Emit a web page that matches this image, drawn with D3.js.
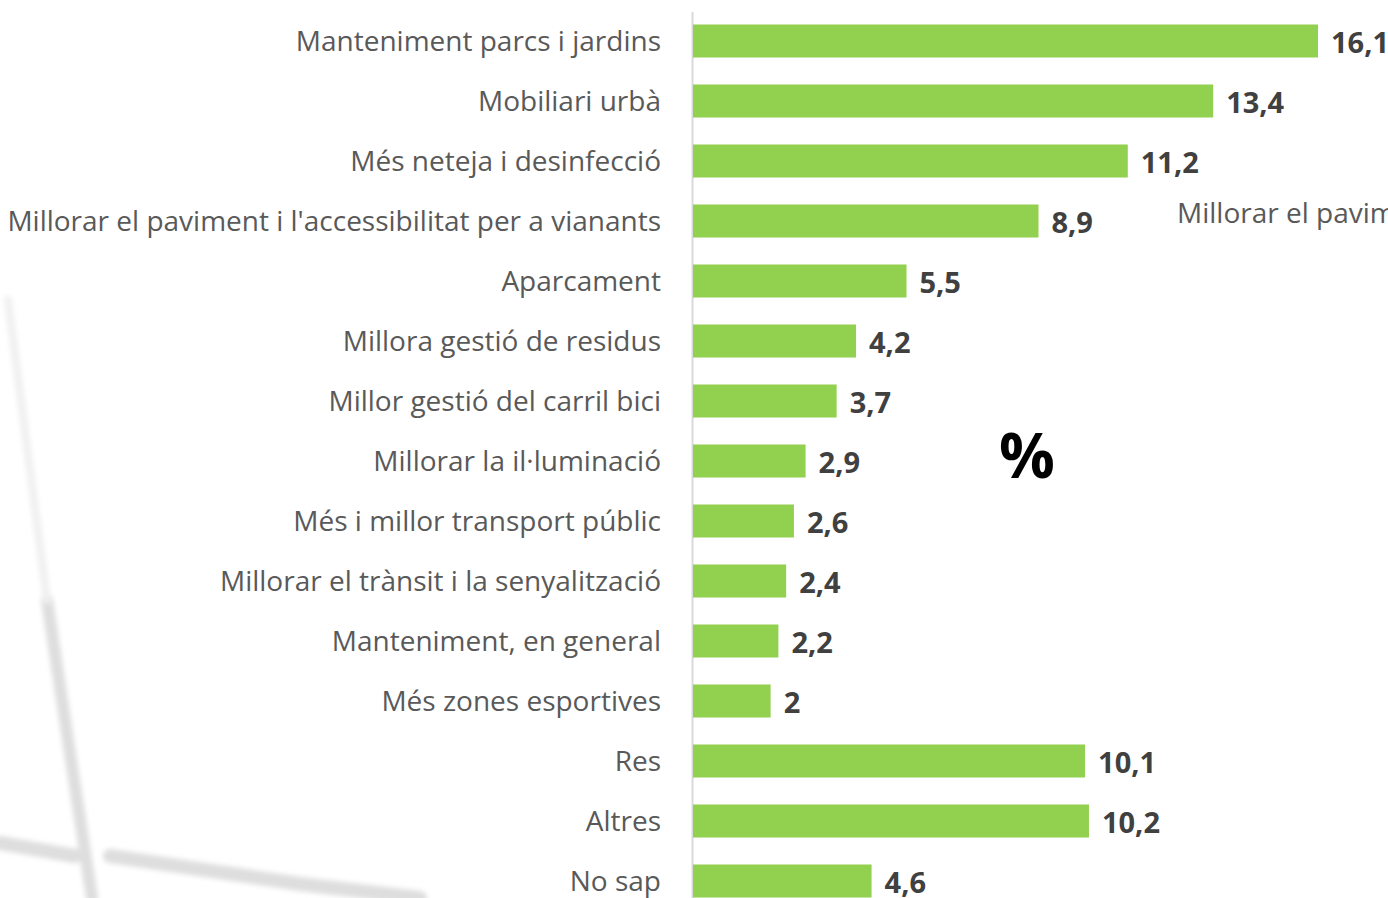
<!DOCTYPE html>
<html>
<head>
<meta charset="utf-8">
<script src="https://cdn.jsdelivr.net/npm/d3@7"></script>
<style>
  html, body { margin: 0; padding: 0; background: #fff; overflow: hidden; }
  svg { display: block; font-family: "Open Sans", sans-serif; }
</style>
</head>
<body>
<script>
// categories, top to bottom
const categories = [
  "Manteniment parcs i jardins",
  "Mobiliari urbà",
  "Més neteja i desinfecció",
  "Millorar el paviment i l'accessibilitat per a vianants",
  "Aparcament",
  "Millora gestió de residus",
  "Millor gestió del carril bici",
  "Millorar la il·luminació",
  "Més i millor transport públic",
  "Millorar el trànsit i la senyalització",
  "Manteniment, en general",
  "Més zones esportives",
  "Res",
  "Altres",
  "No sap"
];
const values = [16.1, 13.4, 11.2, 8.9, 5.5, 4.2, 3.7, 2.9, 2.6, 2.4, 2.2, 2, 10.1, 10.2, 4.6];

const width = 1388, height = 898;
const x0 = 693;

const svg = d3.select("body").append("svg")
  .attr("width", width)
  .attr("height", height);

// faint background photo lines (window frame)
const defs = svg.append("defs");
defs.append("filter").attr("id", "blur").append("feGaussianBlur").attr("stdDeviation", 2.5);
const bg = svg.append("g")
  .attr("fill", "none")
  .attr("stroke", "#dedede")
  .attr("stroke-linecap", "round")
  .attr("filter", "url(#blur)");
bg.append("path").attr("d", "M47,600 L68,740 L92,898").attr("stroke-width", 12);
bg.append("path").attr("d", "M0,843 L75,856").attr("stroke-width", 14);
bg.append("path").attr("d", "M110,856 L300,884 L420,898").attr("stroke-width", 14);
bg.append("path").attr("d", "M8,300 L30,470 L47,600").attr("stroke-width", 8).attr("stroke", "#f0f0f0");

const y = d3.scaleBand()
  .domain(categories)
  .range([11, 11 + 60 * categories.length])
  .paddingInner(0.45)
  .paddingOuter(0.225);

const x = d3.scaleLinear()
  .domain([0, 16.1])
  .range([x0, 1318]);

// axis line
svg.append("line")
  .attr("x1", x0 - 0.5).attr("x2", x0 - 0.5)
  .attr("y1", 12).attr("y2", height)
  .attr("stroke", "#d9d9d9")
  .attr("stroke-width", 2);

svg.append("g")
  .selectAll("rect")
  .data(values)
  .join("rect")
  .attr("x", x(0))
  .attr("y", (d, i) => y(categories[i]))
  .attr("width", d => x(d) - x(0))
  .attr("height", y.bandwidth())
  .attr("fill", "#92d050");

// category labels
svg.append("g")
  .selectAll("text")
  .data(categories)
  .join("text")
  .attr("x", 661)
  .attr("y", d => y(d) + y.bandwidth() / 2)
  .attr("dy", "0.35em")
  .attr("text-anchor", "end")
  .attr("font-size", 28)
  .attr("fill", "#595959")
  .text(d => d);

// value labels
svg.append("g")
  .selectAll("text")
  .data(values)
  .join("text")
  .attr("x", d => x(d) + 13)
  .attr("y", (d, i) => y(categories[i]) + y.bandwidth() / 2 + 2)
  .attr("dy", "0.35em")
  .attr("font-size", 29)
  .attr("font-weight", "bold")
  .attr("fill", "#404040")
  .text(d => String(d).replace(".", ","));

// stray label
svg.append("text")
  .attr("x", 1177)
  .attr("y", 213)
  .attr("dy", "0.35em")
  .attr("font-size", 28)
  .attr("fill", "#595959")
  .text("Millorar el paviment i l'accessibilitat per a vianants");

svg.append("text")
  .attr("x", 1027)
  .attr("y", 456)
  .attr("dy", "0.35em")
  .attr("text-anchor", "middle")
  .attr("font-size", 62)
  .attr("font-weight", "bold")
  .attr("fill", "#000")
  .text("%");
</script>
</body>
</html>
